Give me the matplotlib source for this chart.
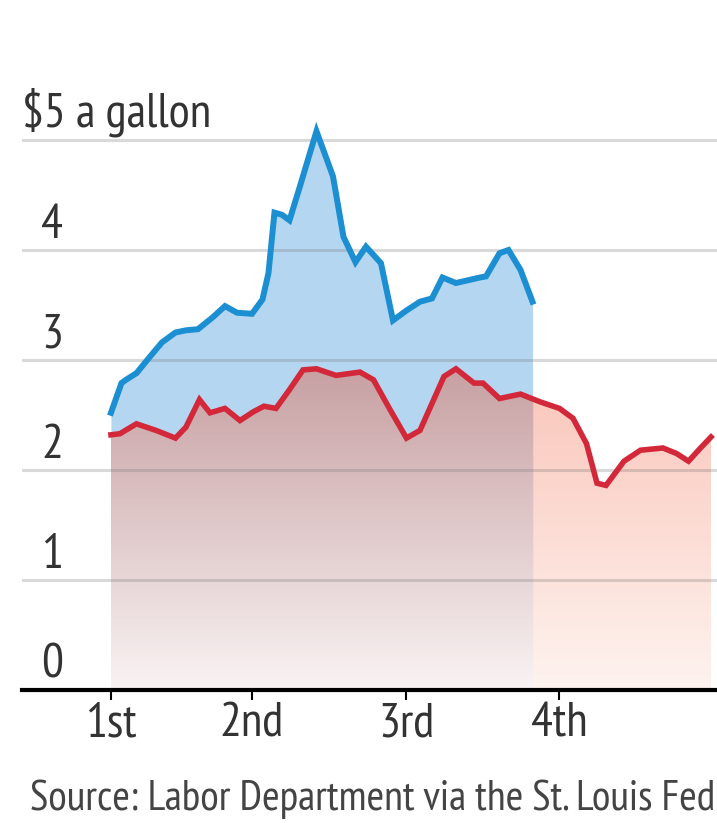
import numpy as np
import matplotlib
matplotlib.use("Agg")
import matplotlib.pyplot as plt
from matplotlib import font_manager

# narrow font, like the original chart
names = {f.name for f in font_manager.fontManager.ttflist}
FONT = "DejaVu Sans"
for cand in ["PT Sans Narrow", "Roboto Condensed", "Archivo Narrow", "Liberation Sans Narrow"]:
    if cand in names:
        FONT = cand
        break
plt.rcParams["font.family"] = [FONT, "DejaVu Sans"]

# years into the term
blue_x = [0.00, 0.07, 0.10, 0.17, 0.26, 0.34, 0.43, 0.50, 0.58, 0.68, 0.76, 0.84,
          0.94, 1.01, 1.05, 1.09, 1.14, 1.19, 1.26, 1.37, 1.48, 1.55, 1.63, 1.70,
          1.80, 1.88, 1.97, 2.06, 2.14, 2.21, 2.30, 2.46, 2.50, 2.59, 2.65, 2.73, 2.81]
blue_y = [2.52, 2.79, 2.82, 2.88, 3.03, 3.16, 3.25, 3.27, 3.28, 3.39, 3.49, 3.43,
          3.42, 3.55, 3.79, 4.34, 4.32, 4.27, 4.58, 5.08, 4.67, 4.12, 3.89, 4.03,
          3.88, 3.36, 3.45, 3.53, 3.56, 3.75, 3.70, 3.75, 3.76, 3.97, 4.00, 3.82, 3.53]

red_x = [0.00, 0.06, 0.17, 0.30, 0.43, 0.50, 0.59, 0.66, 0.76, 0.86, 0.95, 1.02,
         1.10, 1.19, 1.28, 1.37, 1.50, 1.66, 1.75, 1.86, 1.97, 2.06, 2.22, 2.30,
         2.42, 2.48, 2.59, 2.73, 2.86, 2.99, 3.08, 3.17, 3.24, 3.30, 3.42, 3.53,
         3.68, 3.77, 3.85, 3.93, 4.00]
red_y = [2.32, 2.33, 2.42, 2.36, 2.29, 2.39, 2.64, 2.52, 2.56, 2.45, 2.53, 2.58,
         2.56, 2.73, 2.91, 2.92, 2.86, 2.89, 2.82, 2.55, 2.29, 2.36, 2.85, 2.92,
         2.79, 2.79, 2.65, 2.69, 2.62, 2.56, 2.47, 2.24, 1.88, 1.86, 2.08, 2.18,
         2.20, 2.15, 2.08, 2.20, 2.30]

tick_pos = [0, 0.94, 1.97, 2.99]
tick_labels = ["1st", "2nd", "3rd", "4th"]
y_levels = [0, 1, 2, 3, 4]
source = "Source: Labor Department via the St. Louis Fed"

BLUE = "#1b8fd2"
RED = "#d2283a"
TEXT = "#333333"
FS = 35

W, H = 717, 823
fig = plt.figure(figsize=(W / 100, H / 100), dpi=100)
ax = fig.add_axes([22 / W, 133 / H, 1 - 22 / W, 605 / H])
x0, x1 = -0.593, 4.04
ax.set_xlim(x0, x1)
ax.set_ylim(0, 5.5)

# blue area
ax.fill_between(blue_x, blue_y, 0, color="#b5d6f0", lw=0, zorder=1)

# red area with a vertical gradient, different tint where blue is underneath
poly = ax.fill_between(red_x, red_y, 0, color="none", lw=0, zorder=2)
ny, nx = 200, 400
gy = np.linspace(1, 0, ny)[:, None, None]
gx = np.linspace(0, 4.0, nx)
mauve_top = np.array([198, 158, 160]) / 255
mauve_bot = np.array([249, 243, 243]) / 255
salmon_top = np.array([250, 196, 184]) / 255
salmon_bot = np.array([254, 243, 239]) / 255
under = (gx <= blue_x[-1])[None, :, None]
img = np.where(under,
               mauve_bot + (mauve_top - mauve_bot) * gy,
               salmon_bot + (salmon_top - salmon_bot) * gy)
im = ax.imshow(img, extent=[0, 4.0, 0, 3.0], aspect="auto", zorder=2,
               interpolation="bilinear")
im.set_clip_path(poly.get_paths()[0], transform=ax.transData)

# gridlines on top of the fills
for v in [1, 2, 3, 4, 5]:
    ax.axhline(v, color="#777777", alpha=0.28, lw=2.2, zorder=3)

ax.plot(blue_x, blue_y, color=BLUE, lw=4.3, zorder=5, solid_joinstyle="miter")
ax.plot(red_x, red_y, color=RED, lw=4.0, zorder=4, solid_joinstyle="miter")

for s in ["top", "right", "left"]:
    ax.spines[s].set_visible(False)
ax.spines["bottom"].set_linewidth(3)
ax.spines["bottom"].set_color("black")
ax.spines["bottom"].set_zorder(6)
ax.set_yticks([])
ax.set_xticks(tick_pos, tick_labels)
ax.tick_params(axis="x", length=7, width=1.5, color="black", pad=2,
               labelsize=FS, labelcolor=TEXT)

lab_x = -0.465
for v in y_levels:
    ax.text(lab_x, v + 0.11, str(v), fontsize=FS, color=TEXT, va="baseline", ha="left")
ax.text(x0 + 0.003, 5.12, "$5 a gallon", fontsize=FS, color=TEXT, va="baseline", ha="left")

src = fig.text(30 / W, 13 / H, source, fontsize=30, color="#444444",
               va="baseline", ha="left")
# fit the source line between x=30 and the right edge
fig.canvas.draw()
wpx = src.get_window_extent().width
src.set_fontsize(30 * 684 / wpx)

fig.savefig("out.png", dpi=100)
